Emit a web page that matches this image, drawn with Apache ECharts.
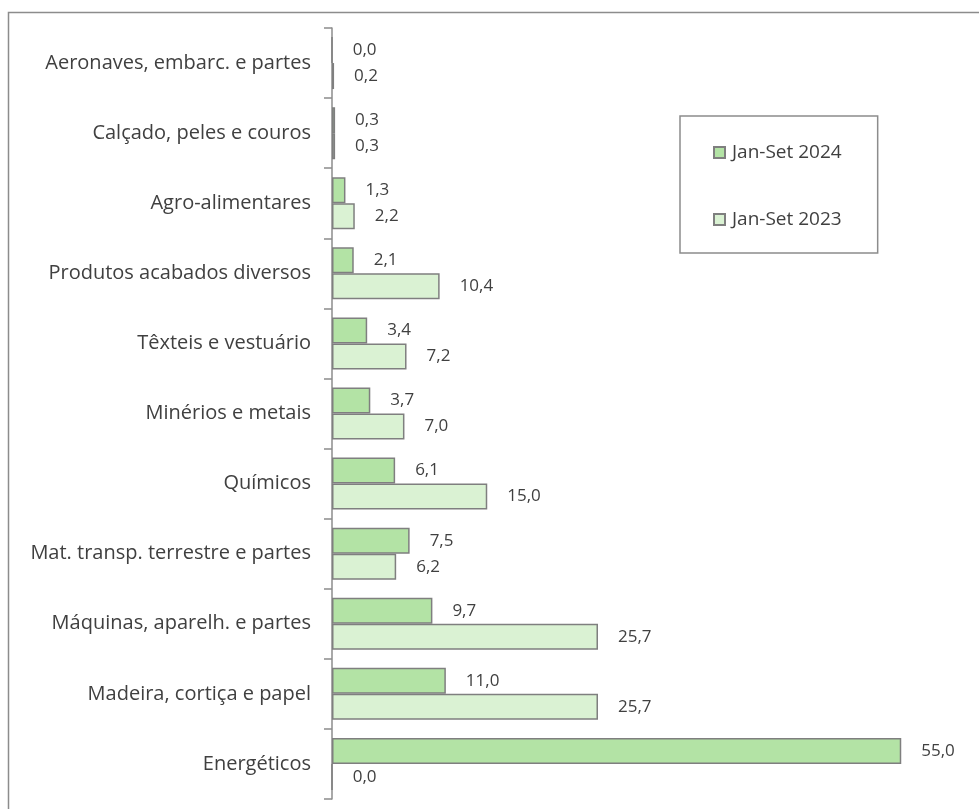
<!DOCTYPE html>
<html><head><meta charset="utf-8">
<script src="https://cdn.jsdelivr.net/npm/echarts@6/dist/echarts.min.js"></script>
<style>html,body{margin:0;padding:0;background:#fff}#c{width:979px;height:809px}</style>
</head><body><div id="c"></div>
<script>
const categories = ["Aeronaves, embarc. e partes","Calçado, peles e couros","Agro-alimentares","Produtos acabados diversos","Têxteis e vestuário","Minérios e metais","Químicos","Mat. transp. terrestre e partes","Máquinas, aparelh. e partes","Madeira, cortiça e papel","Energéticos"];
const seriesNames = ["Jan-Set 2024","Jan-Set 2023"];
const values2024 = [0.0,0.3,1.3,2.1,3.4,3.7,6.1,7.5,9.7,11.0,55.0];
const values2023 = [0.2,0.3,2.2,10.4,7.2,7.0,15.0,6.2,25.7,25.7,0.0];

const FONT = "Open Sans";
const chart = echarts.init(document.getElementById('c'), null, {renderer:'canvas'});
const lbl = {show:true, position:'right', distance:20, color:'#404040', fontSize:17, fontFamily:FONT,
  formatter: p => p.value.toFixed(1).replace('.', ',')};
chart.setOption({
  animation:false,
  graphic:[{type:'rect', shape:{x:8.5,y:12.5,width:1200,height:1200}, style:{fill:null, stroke:'#8c8c8c', lineWidth:1.5}, z:-1}],
  grid:{left:332, top:28, width:621, height:771, containLabel:false},
  xAxis:{type:'value', min:0, max:60, show:false},
  yAxis:{type:'category', data:categories, inverse:true,
    axisLine:{show:true, lineStyle:{color:'#8c8c8c', width:1.5}},
    axisTick:{show:true, length:8, lineStyle:{color:'#8c8c8c', width:1.5}},
    axisLabel:{color:'#404040', fontSize:20, fontFamily:FONT, margin:21},
    splitLine:{show:false}},
  legend:{orient:'vertical', left:680, top:116, padding:[27,36,24,33], itemGap:48, itemWidth:11, itemHeight:11,
    borderColor:'#8c8c8c', borderWidth:1.5,
    textStyle:{color:'#404040', fontSize:19, fontFamily:FONT, padding:[0,0,0,2]}, icon:'rect', data:seriesNames},
  series:[
    {name:seriesNames[0], type:'bar', data:values2024, barWidth:26, barGap:'0%', barCategoryGap:'26%',
      itemStyle:{color:'#b3e3a5', borderColor:'#7f7f7f', borderWidth:1.5}, label:lbl},
    {name:seriesNames[1], type:'bar', data:values2023, barWidth:26, barGap:'0%',
      itemStyle:{color:'#daf2d3', borderColor:'#7f7f7f', borderWidth:1.5}, label:lbl}
  ]
});
</script></body></html>
